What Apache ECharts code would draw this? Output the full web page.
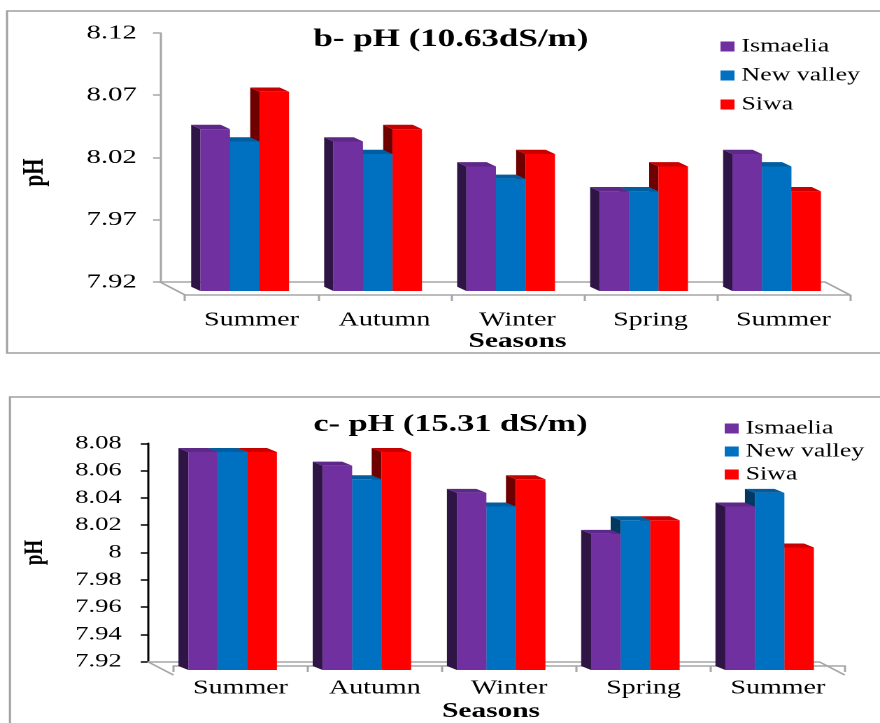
<!DOCTYPE html>
<html>
<head>
<meta charset="utf-8">
<title>pH by season</title>
<script src="https://cdn.jsdelivr.net/npm/echarts@6/dist/echarts.min.js"></script>
<style>
  html, body { margin: 0; padding: 0; background: #fff; overflow: hidden; }
  /* the source figure is stretched sideways, so draw narrow and widen it */
  #chart { width: 629px; height: 723px; transform: scaleX(1.399); transform-origin: 0 0; }
</style>
</head>
<body>
<div id="chart"></div>
<script>
// data
const seasons = ['Summer', 'Autumn', 'Winter', 'Spring', 'Summer']
const locations = ['Ismaelia', 'New valley', 'Siwa']

// b- pH (10.63 dS/m)
const ticksB = [7.92, 7.97, 8.02, 8.07, 8.12]
const ismaeliaB = [8.04, 8.03, 8.01, 7.99, 8.02]
const newValleyB = [8.03, 8.02, 8.00, 7.99, 8.01]
const siwaB = [8.07, 8.04, 8.02, 8.01, 7.99]

// c- pH (15.31 dS/m)
const ticksC = [7.92, 7.94, 7.96, 7.98, 8.00, 8.02, 8.04, 8.06, 8.08]
const ismaeliaC = [8.07, 8.06, 8.04, 8.01, 8.03]
const newValleyC = [8.07, 8.05, 8.03, 8.02, 8.04]
const siwaC = [8.07, 8.07, 8.05, 8.02, 8.00]

const font = '"Liberation Serif", "DejaVu Serif", serif'
const gray = '#a6a6a6'

// colours: front, top, side
const palette = {
  'Ismaelia': ['#7030A0', '#5e2889', '#2e1545'],
  'New valley': ['#0070C0', '#005d9f', '#00385f'],
  'Siwa': ['#FF0000', '#c80000', '#6e0000']
}

// 3d look of each panel
const panelB = { shift: 13.0, barW: 21.1, dx: -6.65, dy: -4.3, lift: 3.5, drop: 9, fdx: 17.9, fdy: 13 }
const panelC = { shift: 12.7, barW: 21.1, dx: -7.1, dy: -4, lift: 5, drop: 8.3, fdx: 18.4, fdy: 13.3 }

function barRenderer(cfg, slot, colors, min) {
  return function (params, api) {
    const idx = api.value(0)
    const top = api.coord([idx, api.value(1)])
    const base = api.coord([idx, min])
    const cx = top[0] + cfg.shift + slot * cfg.barW
    const xL = cx - cfg.barW / 2
    const xR = cx + cfg.barW / 2
    const yT = top[1] - cfg.lift
    const yB = base[1] + cfg.drop
    return {
      type: 'group',
      children: [
        { type: 'polygon', shape: { points: [[xL + cfg.dx, yT + cfg.dy], [xL, yT], [xL, yB], [xL + cfg.dx, yB + cfg.dy]] }, style: { fill: colors[2] } },
        { type: 'polygon', shape: { points: [[xL + cfg.dx, yT + cfg.dy], [xR + cfg.dx, yT + cfg.dy], [xR, yT], [xL, yT]] }, style: { fill: colors[1] } },
        { type: 'rect', shape: { x: xL, y: yT, width: cfg.barW, height: yB - yT }, style: { fill: colors[0] } }
      ]
    }
  }
}

// side edges of the floor
function floorRenderer(cfg) {
  return function (params) {
    const cs = params.coordSys
    const yb = cs.y + cs.height
    const line = (x) => ({
      type: 'line',
      shape: { x1: x, y1: yb, x2: x + cfg.fdx, y2: yb + cfg.fdy },
      style: { stroke: gray, lineWidth: 1.5 }
    })
    return { type: 'group', children: [line(cs.x), line(cs.x + cs.width)] }
  }
}

function makeBars(name, values, gridAxis, cfg, slot, min) {
  return {
    type: 'custom',
    name: name,
    xAxisIndex: gridAxis,
    yAxisIndex: gridAxis,
    z: 3 - slot,
    itemStyle: { color: palette[name][0] },
    renderItem: barRenderer(cfg, slot, palette[name], min),
    encode: { x: 0, y: 1 },
    data: values.map((v, i) => [i, v])
  }
}

function backX(gridIndex) {
  return {
    gridIndex, type: 'category', data: seasons,
    axisLine: { lineStyle: { color: gray, width: 1.5 } },
    axisTick: { show: false }, axisLabel: { show: false }
  }
}

function frontX(gridIndex, margin, nameGap, namePad) {
  return {
    gridIndex, type: 'category', data: seasons,
    axisLine: { lineStyle: { color: gray, width: 1.5 } },
    axisTick: { show: true, length: 6, lineStyle: { color: gray, width: 1.5 } },
    axisLabel: { margin, fontSize: 20, color: '#000', fontFamily: font },
    name: 'Seasons', nameLocation: 'middle', nameGap,
    nameTextStyle: { fontSize: 21, fontWeight: 'bold', color: '#000', fontFamily: font, padding: namePad }
  }
}

function valueY(gridIndex, ticks, lineColor, labelSize, margin, nameGap, namePad, nameSize) {
  return {
    gridIndex, type: 'value',
    min: ticks[0], max: ticks[ticks.length - 1],
    interval: Math.round((ticks[1] - ticks[0]) * 100) / 100,
    axisLine: { show: true, lineStyle: { color: lineColor, width: 1.5 } },
    axisTick: { show: true, length: 5, lineStyle: { color: lineColor, width: 1.5 } },
    splitLine: { show: false },
    axisLabel: { margin, fontSize: labelSize, color: '#000', fontFamily: font },
    name: 'pH', nameLocation: 'middle', nameGap,
    nameTextStyle: { fontSize: nameSize, fontWeight: 'bold', color: '#000', fontFamily: font, padding: namePad }
  }
}

function hiddenY(gridIndex, ticks) {
  return { gridIndex, type: 'value', show: false, min: ticks[0], max: ticks[ticks.length - 1] }
}

const option = {
  backgroundColor: '#fff',
  animation: false,
  title: [
    { text: 'b- pH (10.63dS/m)', left: 219, top: 22, textStyle: { fontSize: 25, fontWeight: 'bold', color: '#000', fontFamily: font } },
    { text: 'c- pH (15.31 dS/m)', left: 219, top: 407, textStyle: { fontSize: 24.5, fontWeight: 'bold', color: '#000', fontFamily: font } }
  ],
  legend: [
    {
      data: locations, orient: 'vertical', left: 510, top: 32, icon: 'rect',
      itemWidth: 10, itemHeight: 10, itemGap: 10, selectedMode: false,
      textStyle: { fontSize: 18.5, color: '#000', fontFamily: font }
    },
    {
      data: locations, orient: 'vertical', left: 513, top: 414, icon: 'rect',
      itemWidth: 10, itemHeight: 10, itemGap: 4, selectedMode: false,
      textStyle: { fontSize: 18.5, color: '#000', fontFamily: font }
    }
  ],
  grid: [
    { left: 114.4, right: 39.3, top: 33, bottom: 441 },   // b back wall
    { left: 132.2, right: 21.4, top: 46, bottom: 428 },   // b floor front
    { left: 105.6, right: 43.6, top: 443.3, bottom: 61.3 }, // c back wall
    { left: 123.9, right: 25, top: 456, bottom: 48 }      // c floor front
  ],
  xAxis: [
    backX(0),
    frontX(1, 15, 31, [0, 0, 0, 0]),
    backX(2),
    frontX(3, 12, 35, [0, 26, 0, 0])
  ],
  yAxis: [
    valueY(0, ticksB, gray, 20.5, 16.7, 78.7, [0, 30, 0, 0], 21),
    hiddenY(1, ticksB),
    valueY(2, ticksC, '#000', 19, 18.6, 71, [0, 0, 0, 0], 19),
    hiddenY(3, ticksC)
  ],
  graphic: [
    { type: 'rect', silent: true, z: -10, shape: { x: 5, y: 11, width: 700, height: 342 }, style: { fill: 'none', stroke: '#a0a0a0', lineWidth: 1.5 } },
    { type: 'rect', silent: true, z: -10, shape: { x: 7.1, y: 397, width: 700, height: 400 }, style: { fill: 'none', stroke: '#a0a0a0', lineWidth: 1.5 } }
  ],
  series: [
    { type: 'custom', name: 'floorB', xAxisIndex: 0, yAxisIndex: 0, z: 1, silent: true, renderItem: floorRenderer(panelB), data: [[0, ticksB[0]]] },
    { type: 'custom', name: 'floorC', xAxisIndex: 2, yAxisIndex: 2, z: 1, silent: true, renderItem: floorRenderer(panelC), data: [[0, ticksC[0]]] },
    makeBars('Ismaelia', ismaeliaB, 0, panelB, -1, ticksB[0]),
    makeBars('New valley', newValleyB, 0, panelB, 0, ticksB[0]),
    makeBars('Siwa', siwaB, 0, panelB, 1, ticksB[0]),
    makeBars('Ismaelia', ismaeliaC, 2, panelC, -1, ticksC[0]),
    makeBars('New valley', newValleyC, 2, panelC, 0, ticksC[0]),
    makeBars('Siwa', siwaC, 2, panelC, 1, ticksC[0])
  ]
}

const myChart = echarts.init(document.getElementById('chart'), null, { renderer: 'canvas', devicePixelRatio: 2 })
myChart.setOption(option)
</script>
</body>
</html>
